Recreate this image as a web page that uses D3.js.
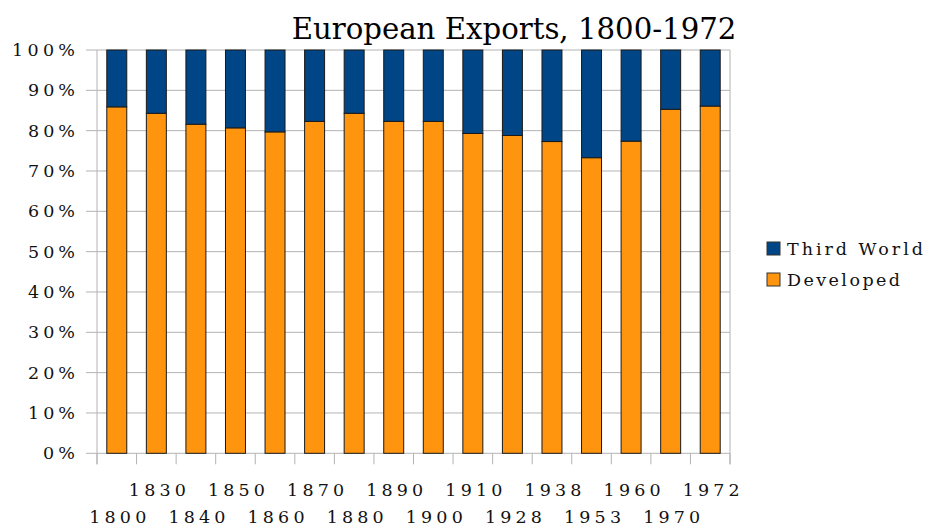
<!DOCTYPE html>
<html><head><meta charset="utf-8">
<script src="https://cdn.jsdelivr.net/npm/d3@7"></script>
<style>
body{margin:0;background:#fff;}
svg text{font-family:"DejaVu Serif","Liberation Serif",serif;fill:#111;}
</style></head>
<body><svg id="c" width="929" height="527"></svg>
<script>
const years = ["1800","1830","1840","1850","1860","1870","1880","1890","1900","1910","1928","1938","1953","1960","1970","1972"];
const developed = [85.9,84.3,81.6,80.7,79.7,82.3,84.3,82.3,82.3,79.3,78.8,77.3,73.3,77.4,85.3,86.1];
const thirdWorld = developed.map(d => +(100 - d).toFixed(1));
const seriesNames = ["Third World","Developed"];
const seriesColors = ["#004586","#ff950e"];
const yTicks = [0,10,20,30,40,50,60,70,80,90,100];

const svg = d3.select("#c");
const L = 97, R = 730, T = 50, B = 453.3;
const x = d3.scaleBand().domain(years).range([L,R]).paddingInner(0.495).paddingOuter(0.2475);
const xt = d3.scaleBand().domain(years).range([L,R]);
const y = d3.scaleLinear().domain([0,100]).range([B,T]);

svg.append("g").selectAll("line").data(yTicks).join("line")
  .attr("x1",L-11).attr("x2",R).attr("y1",d=>y(d)).attr("y2",d=>y(d))
  .attr("stroke","#b3b3b3").attr("stroke-width",1);
svg.append("line").attr("x1",L).attr("x2",L).attr("y1",T).attr("y2",B+11).attr("stroke","#b3b3b3");
svg.append("line").attr("x1",R).attr("x2",R).attr("y1",T).attr("y2",B+11).attr("stroke","#b3b3b3");
const xtickPos = years.map(d=>xt(d)).concat([R]);
svg.append("g").selectAll("line").data(xtickPos).join("line")
  .attr("x1",d=>d).attr("x2",d=>d).attr("y1",B).attr("y2",B+11).attr("stroke","#b3b3b3");

const rows = years.map((yr,i)=>({year:yr, "Developed":developed[i], "Third World":thirdWorld[i]}));
const stack = d3.stack().keys(["Developed","Third World"])(rows);
const color = d3.scaleOrdinal().domain(seriesNames).range(seriesColors);
svg.append("g").selectAll("g").data(stack).join("g")
  .attr("fill",d=>color(d.key))
  .selectAll("rect").data(d=>d).join("rect")
  .attr("x",d=>x(d.data.year)).attr("width",x.bandwidth())
  .attr("y",d=>y(Math.min(d[1],100))).attr("height",d=>y(d[0])-y(Math.min(d[1],100)))
  .attr("stroke","#1a1a1a").attr("stroke-width",1);

svg.append("g").selectAll("text").data(yTicks).join("text")
  .attr("x",75).attr("y",d=>y(d)+6).attr("text-anchor","end")
  .attr("font-size",17.5)
  .attr("textLength",d=> (d===100?63:(d===0?32:47)))
  .attr("lengthAdjust","spacing")
  .text(d=>d+"%");

svg.append("g").selectAll("text").data(years).join("text")
  .attr("x",d=>x(d)+x.bandwidth()/2+1).attr("y",(d,i)=> i%2===1 ? 496 : 523)
  .attr("text-anchor","middle").attr("font-size",17.5)
  .attr("textLength",57).attr("lengthAdjust","spacing")
  .text(d=>d);

const title = svg.append("text").attr("x",514).attr("y",39).attr("text-anchor","middle")
  .attr("font-size",30).style("fill","#000").text("European Exports, 1800-1972");
const tw = title.node().getComputedTextLength();
title.attr("font-size", 30*445/tw);

const lg = svg.append("g").selectAll("g").data(seriesNames).join("g")
  .attr("transform",(d,i)=>`translate(767,${242+i*31})`);
lg.append("rect").attr("width",13).attr("height",13).attr("fill",d=>color(d)).attr("stroke","#333");
lg.append("text").attr("x",20).attr("y",13).attr("font-size",17.5)
  .attr("textLength",d=> d==="Third World"?136:113).attr("lengthAdjust","spacing").text(d=>d);
</script></body></html>
